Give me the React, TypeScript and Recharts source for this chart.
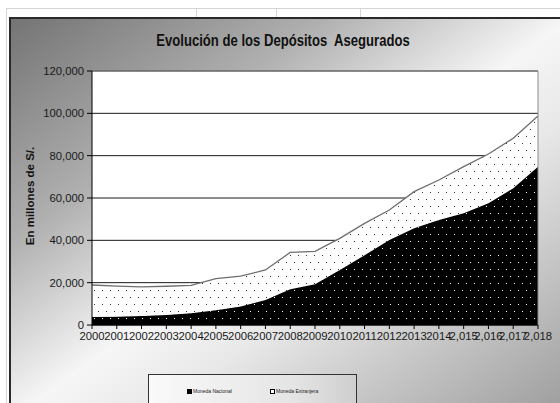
import { AreaChart, Area, XAxis, YAxis, CartesianGrid, ReferenceLine } from 'recharts';

// Categories as printed on the axis (the last four carry a thousands comma)
const YEARS = [
  '2000', '2001', '2002', '2003', '2004', '2005', '2006', '2007', '2008', '2009',
  '2010', '2011', '2012', '2013', '2014', '2,015', '2,016', '2,017', '2,018',
];

// Millones de S/.
const NACIONAL = [
  3800, 3900, 4200, 4700, 5500, 7000, 8700, 11800, 16900, 19300,
  26000, 33000, 40200, 45700, 49600, 52800, 57500, 64600, 74800,
];
const EXTRANJERA = [
  15100, 14500, 13800, 13600, 13200, 14900, 14400, 14200, 17400, 15500,
  14900, 15000, 14100, 17300, 18900, 22000, 23300, 23600, 23900,
];

const Y_TICKS = [0, 20000, 40000, 60000, 80000, 100000, 120000];

const TITLE = 'Evolución de los Depósitos  Asegurados';
const Y_LABEL = 'En millones de S/.';
const SERIES_NAMES = { nacional: 'Moneda Nacional', extranjera: 'Moneda Extranjera' };

const data = YEARS.map((year, i) => ({
  year,
  nacional: NACIONAL[i],
  extranjera: EXTRANJERA[i],
}));

const FONT = '"Liberation Sans", Arial, sans-serif';

function LegendBox() {
  return (
    <div
      style={{
        position: 'absolute',
        left: 148,
        top: 374,
        width: 209,
        height: 40,
        boxSizing: 'border-box',
        border: '1px solid #333',
        background: 'linear-gradient(to right, #fafafa, #e4e4e4 70%, #cfcfcf)',
        fontFamily: FONT,
        fontSize: 5,
        color: '#222',
      }}
    >
      <div style={{ position: 'absolute', left: 38, top: 13, display: 'flex', alignItems: 'center' }}>
        <span style={{ width: 3, height: 3, background: '#000', border: '0.5px solid #000', marginRight: 1 }} />
        {SERIES_NAMES.nacional}
      </div>
      <div style={{ position: 'absolute', left: 121, top: 13, display: 'flex', alignItems: 'center' }}>
        <span style={{ width: 3, height: 3, background: '#fff', border: '0.5px solid #000', marginRight: 1 }} />
        {SERIES_NAMES.extranjera}
      </div>
    </div>
  );
}

export default function App() {
  return (
    <div style={{ position: 'absolute', left: 0, top: 0, width: 560, height: 403, overflow: 'hidden', background: '#fff' }}>
      {/* spreadsheet cell lines behind the chart */}
      <div style={{ position: 'absolute', left: 6, top: 8, right: 0, height: 0, borderTop: '1px solid #d4d4d4' }} />
      <div style={{ position: 'absolute', left: 6, top: 8, bottom: 0, width: 0, borderLeft: '1px solid #d4d4d4' }} />
      {[196, 276, 360].map((x) => (
        <div key={x} style={{ position: 'absolute', left: x, top: 8, height: 10, width: 0, borderLeft: '1px solid #d4d4d4' }} />
      ))}
      {/* chart frame with the diagonal grey gradient */}
      <div
        style={{
          position: 'absolute',
          left: 9,
          top: 17,
          width: 560,
          height: 400,
          border: '1px solid #2a2a2a',
          borderWidth: '2px 0 0 2px',
          background: 'linear-gradient(to bottom right, #747474 0%, #b0b0b0 28%, #f6f6f6 50%, #e8e8e8 62%, #9a9a9a 100%)',
        }}
      />
      <div
        style={{
          position: 'absolute',
          left: 283,
          top: 31,
          transform: 'translateX(-50%) scaleX(0.77)',
          fontFamily: FONT,
          fontWeight: 'bold',
          fontSize: 17,
          color: '#111',
          whiteSpace: 'pre',
        }}
      >
        {TITLE}
      </div>
      <div
        style={{
          position: 'absolute',
          left: 30,
          top: 196,
          transform: 'translate(-50%, -50%) rotate(-90deg)',
          fontFamily: FONT,
          fontWeight: 'bold',
          fontSize: 11.5,
          color: '#111',
          whiteSpace: 'nowrap',
        }}
      >
        {Y_LABEL}
      </div>
      <div style={{ position: 'absolute', left: 0, top: 0 }}>
        <AreaChart width={560} height={403} data={data} margin={{ top: 71, right: 22, bottom: 48, left: 32 }}>
          <defs>
            <pattern id="dotsOnBlack" width="8" height="14" patternUnits="userSpaceOnUse">
              <rect width="8" height="14" fill="#000" />
              <rect x="2" y="3" width="1" height="1" fill="#fff" />
              <rect x="6" y="10" width="1" height="1" fill="#fff" />
            </pattern>
            <pattern id="dotsOnWhite" width="8" height="14" patternUnits="userSpaceOnUse">
              <rect width="8" height="14" fill="#fff" />
              <rect x="2" y="3" width="1" height="1" fill="#333" />
              <rect x="6" y="10" width="1" height="1" fill="#333" />
            </pattern>
          </defs>
          <CartesianGrid vertical={false} stroke="#1a1a1a" fill="#fff" />
          <XAxis
            dataKey="year"
            axisLine={{ stroke: '#000' }}
            tickLine={{ stroke: '#000' }}
            tickSize={4}
            tickMargin={3}
            interval={0}
            height={30}
            tick={{ fill: '#1a1a1a', fontSize: 11.3, fontFamily: FONT }}
          />
          <YAxis
            domain={[0, 120000]}
            ticks={Y_TICKS}
            width={60}
            axisLine={{ stroke: '#000' }}
            tickLine={{ stroke: '#000' }}
            tickSize={5}
            tickMargin={3}
            tickFormatter={(v: number) => v.toLocaleString('en-US')}
            tick={{ fill: '#1a1a1a', fontSize: 11.3, fontFamily: FONT }}
          />
          <ReferenceLine y={120000} stroke="#8a8a8a" />
          <ReferenceLine x="2,018" stroke="#8a8a8a" />
          <Area
            type="linear"
            dataKey="nacional"
            name={SERIES_NAMES.nacional}
            stackId="dep"
            fill="url(#dotsOnBlack)"
            fillOpacity={1}
            stroke="#000"
            strokeWidth={1}
            isAnimationActive={false}
          />
          <Area
            type="linear"
            dataKey="extranjera"
            name={SERIES_NAMES.extranjera}
            stackId="dep"
            fill="url(#dotsOnWhite)"
            fillOpacity={1}
            stroke="#6e6e6e"
            strokeWidth={1.3}
            isAnimationActive={false}
          />
        </AreaChart>
      </div>
      <LegendBox />
    </div>
  );
}
